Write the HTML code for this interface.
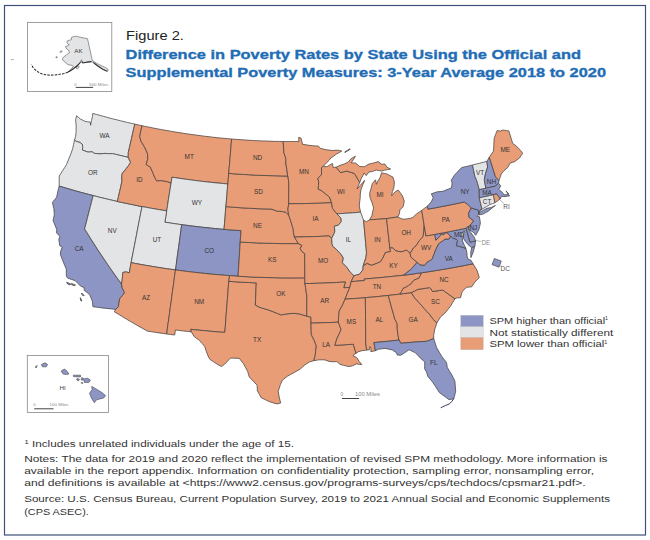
<!DOCTYPE html><html><head><meta charset="utf-8"><style>
html,body{margin:0;padding:0;background:#fff;}
svg{display:block}
</style></head><body>
<svg width="650" height="540" viewBox="0 0 650 540">
<rect x="0" y="0" width="650" height="540" fill="#fff"/>
<path d="M11,59.6 H13.8" stroke="#aaa" stroke-width="1"/>
<rect x="4.5" y="5.5" width="641" height="529.5" fill="none" stroke="#3d5179" stroke-width="1.2"/>
<g stroke="#464240" stroke-width="0.75" stroke-linejoin="round"><path d="M74.5,140.1 75.6,136.4 76.1,132.4 76.1,129.2 76.2,126.0 75.6,119.9 76.6,115.8 78.5,117.4 80.5,119.1 82.8,120.2 85.0,121.4 87.7,121.8 90.3,122.2 90.6,125.3 91.5,120.5 92.5,116.5 92.8,113.4 96.3,114.4 99.8,115.3 103.3,116.3 106.7,117.2 110.2,118.2 113.7,119.1 117.2,119.9 120.7,120.8 124.2,121.7 127.7,122.5 131.2,123.3 134.8,124.1 133.7,128.8 132.6,133.5 131.6,138.2 130.5,143.0 129.4,147.7 128.3,152.4 128.2,157.3 125.0,156.6 121.9,155.8 118.7,155.1 115.5,154.3 112.4,153.6 109.7,153.7 107.3,153.6 104.9,153.4 102.4,153.7 99.8,153.9 97.0,153.6 94.2,153.3 92.2,151.8 88.0,152.1 85.0,151.0 82.3,150.0 82.7,147.4 82.3,144.3 80.0,142.5 76.2,141.3 74.5,140.1Z" fill="#e3e4e6"/><path d="M59.2,186.1 59.2,180.1 59.3,176.0 61.0,173.2 62.7,170.5 64.7,167.5 66.5,164.5 68.7,159.2 70.8,153.9 72.7,148.6 73.6,144.3 74.5,140.1 76.2,141.3 80.0,142.5 82.3,144.3 82.7,147.4 82.3,150.0 85.0,151.0 88.0,152.1 92.2,151.8 94.2,153.3 97.0,153.6 99.8,153.9 102.4,153.7 104.9,153.4 107.3,153.6 109.7,153.7 112.4,153.6 115.5,154.3 118.7,155.1 121.9,155.8 125.0,156.6 128.2,157.3 130.6,162.5 128.5,165.5 126.3,168.5 122.3,173.4 121.8,175.6 121.9,181.4 120.8,186.4 119.7,191.4 118.5,196.4 117.4,201.5 113.4,200.5 109.3,199.6 105.3,198.6 101.2,197.7 97.2,196.6 93.2,195.6 89.4,194.6 85.6,193.6 81.8,192.6 78.0,191.6 74.2,190.5 70.5,189.4 66.7,188.3 62.9,187.2 59.2,186.1Z" fill="#e3e4e6"/><path d="M115.7,309.4 111.1,308.9 106.6,308.4 102.0,307.9 97.5,307.3 92.9,306.7 92.4,301.2 89.9,295.3 88.0,293.1 84.3,290.5 84.0,287.5 80.5,286.1 77.8,283.3 75.1,280.6 71.4,279.4 67.6,278.1 66.3,276.0 66.3,272.4 66.2,268.9 63.6,262.8 61.9,258.5 60.3,254.2 60.8,250.8 62.3,247.1 59.8,245.8 58.8,239.6 59.8,236.3 56.6,233.0 56.7,229.4 54.9,225.0 53.1,220.6 53.7,217.5 54.3,214.4 53.8,208.3 52.4,202.6 54.5,199.9 56.6,197.2 57.5,193.0 58.4,188.8 59.2,186.1 62.9,187.2 66.7,188.3 70.5,189.4 74.2,190.5 78.0,191.6 81.8,192.6 85.6,193.6 89.4,194.6 93.2,195.6 91.8,201.1 90.3,206.7 88.9,212.2 87.5,217.7 86.1,223.3 84.6,228.8 87.8,233.9 90.9,239.0 94.2,244.0 97.4,249.1 100.7,254.1 104.1,259.1 107.5,264.2 110.9,269.1 114.4,274.1 118.0,279.1 121.6,284.1 122.1,287.6 124.6,292.8 122.2,295.8 119.7,298.8 119.0,302.7 118.4,306.7 115.7,309.4Z" fill="#8c95c4"/><path d="M117.4,201.5 113.4,200.5 109.3,199.6 105.3,198.6 101.2,197.7 97.2,196.6 93.2,195.6 91.8,201.1 90.3,206.7 88.9,212.2 87.5,217.7 86.1,223.3 84.6,228.8 87.8,233.9 90.9,239.0 94.2,244.0 97.4,249.1 100.7,254.1 104.1,259.1 107.5,264.2 110.9,269.1 114.4,274.1 118.0,279.1 121.6,284.1 122.3,278.4 122.6,275.4 122.9,272.4 126.1,271.9 129.3,272.8 130.2,267.7 131.1,262.6 132.2,257.0 133.3,251.4 134.4,245.8 135.5,240.2 136.6,234.6 137.6,229.0 138.7,223.4 139.8,217.8 140.9,212.2 142.0,206.6 137.9,205.8 133.8,204.9 129.7,204.1 125.6,203.2 121.5,202.4 117.4,201.5Z" fill="#e3e4e6"/><path d="M134.8,124.1 138.4,124.9 142.0,125.7 140.8,131.2 139.7,136.7 141.2,141.6 143.7,145.6 146.0,150.1 147.6,153.8 147.8,159.1 146.1,164.5 148.2,165.8 150.3,167.0 153.1,173.3 154.5,177.1 156.7,180.9 159.0,180.7 161.3,180.6 164.1,181.0 166.8,181.5 169.0,182.3 171.1,183.0 170.2,188.6 169.3,194.1 168.4,199.7 167.6,205.3 166.7,210.9 162.5,210.2 158.4,209.5 154.3,208.8 150.2,208.1 146.1,207.3 142.0,206.6 137.9,205.8 133.8,204.9 129.7,204.1 125.6,203.2 121.5,202.4 117.4,201.5 118.5,196.4 119.7,191.4 120.8,186.4 121.9,181.4 121.8,175.6 122.3,173.4 126.3,168.5 128.5,165.5 130.6,162.5 128.2,157.3 128.3,152.4 129.4,147.7 130.5,143.0 131.6,138.2 132.6,133.5 133.7,128.8 134.8,124.1Z" fill="#e99d76"/><path d="M142.0,125.7 145.7,126.5 149.4,127.2 153.1,128.0 156.8,128.7 160.5,129.4 164.2,130.1 168.0,130.7 171.7,131.4 175.4,132.0 179.1,132.6 182.9,133.2 186.6,133.8 190.3,134.3 194.1,134.8 197.8,135.3 201.6,135.8 205.3,136.3 209.1,136.7 212.8,137.2 216.6,137.6 220.3,138.0 224.1,138.3 227.9,138.7 231.6,139.0 231.2,143.9 230.8,148.8 230.4,153.7 230.0,158.6 229.6,163.5 229.1,168.4 228.7,173.3 228.3,178.6 227.8,184.0 223.8,183.6 219.8,183.2 215.8,182.9 211.8,182.4 207.8,182.0 203.9,181.6 199.9,181.1 195.9,180.6 191.9,180.1 187.9,179.5 183.9,179.0 180.0,178.4 176.0,177.8 172.0,177.2 171.6,180.1 171.1,183.0 169.0,182.3 166.8,181.5 164.1,181.0 161.3,180.6 159.0,180.7 156.7,180.9 154.5,177.1 153.1,173.3 150.3,167.0 148.2,165.8 146.1,164.5 147.8,159.1 147.6,153.8 146.0,150.1 143.7,145.6 141.2,141.6 139.7,136.7 140.8,131.2 142.0,125.7Z" fill="#e99d76"/><path d="M171.1,183.0 171.6,180.1 172.0,177.2 176.0,177.8 180.0,178.4 183.9,179.0 187.9,179.5 191.9,180.1 195.9,180.6 199.9,181.1 203.9,181.6 207.8,182.0 211.8,182.4 215.8,182.9 219.8,183.2 223.8,183.6 227.8,184.0 227.3,189.6 226.9,195.3 226.4,200.9 225.9,206.6 225.4,212.3 225.0,218.0 224.5,223.7 224.0,229.4 219.8,229.0 215.5,228.6 211.3,228.2 207.1,227.7 202.8,227.3 198.6,226.8 194.4,226.3 190.1,225.8 185.9,225.2 181.7,224.7 177.5,224.1 173.3,223.5 169.1,222.8 164.9,222.2 165.8,216.5 166.7,210.9 167.6,205.3 168.4,199.7 169.3,194.1 170.2,188.6 171.1,183.0Z" fill="#e3e4e6"/><path d="M166.7,210.9 165.8,216.5 164.9,222.2 169.1,222.8 173.3,223.5 177.5,224.1 181.7,224.7 180.9,230.3 180.2,236.0 179.4,241.6 178.6,247.3 177.8,253.0 177.0,258.6 176.3,264.3 175.5,269.9 171.0,269.3 166.6,268.7 162.1,268.0 157.7,267.3 153.3,266.6 148.8,265.8 144.4,265.1 140.0,264.3 135.5,263.5 131.1,262.6 132.2,257.0 133.3,251.4 134.4,245.8 135.5,240.2 136.6,234.6 137.6,229.0 138.7,223.4 139.8,217.8 140.9,212.2 142.0,206.6 146.1,207.3 150.2,208.1 154.3,208.8 158.4,209.5 162.5,210.2 166.7,210.9Z" fill="#e3e4e6"/><path d="M181.7,224.7 185.9,225.2 190.1,225.8 194.4,226.3 198.6,226.8 202.8,227.3 207.1,227.7 211.3,228.2 215.5,228.6 219.8,229.0 224.0,229.4 228.2,229.7 232.5,230.0 236.7,230.3 241.0,230.6 240.6,236.3 240.2,242.0 239.9,247.7 239.5,253.4 239.2,259.1 238.8,264.8 238.4,270.5 238.1,276.2 233.8,275.9 229.6,275.6 225.4,275.3 221.2,275.0 217.1,274.6 212.9,274.3 208.7,273.9 204.6,273.4 200.4,273.0 196.2,272.5 192.1,272.1 187.9,271.6 183.8,271.0 179.6,270.5 175.5,269.9 176.3,264.3 177.0,258.6 177.8,253.0 178.6,247.3 179.4,241.6 180.2,236.0 180.9,230.3 181.7,224.7Z" fill="#8c95c4"/><path d="M131.1,262.6 135.5,263.5 140.0,264.3 144.4,265.1 148.8,265.8 153.3,266.6 157.7,267.3 162.1,268.0 166.6,268.7 171.0,269.3 175.5,269.9 174.7,275.3 174.0,280.6 173.3,286.0 172.5,291.3 171.8,296.7 171.1,302.0 170.3,307.3 169.6,312.7 168.9,318.0 168.1,323.3 167.4,328.6 166.7,334.0 162.8,333.4 158.9,332.9 155.1,332.3 151.2,331.7 147.3,331.1 143.2,328.7 139.0,326.4 134.8,324.0 130.7,321.6 126.6,319.2 122.5,316.7 118.4,314.2 114.3,311.8 115.7,309.4 118.4,306.7 119.0,302.7 119.7,298.8 122.2,295.8 124.6,292.8 122.1,287.6 121.6,284.1 122.3,278.4 122.6,275.4 122.9,272.4 126.1,271.9 129.3,272.8 130.2,267.7 131.1,262.6Z" fill="#e99d76"/><path d="M175.5,269.9 179.6,270.5 183.8,271.0 187.9,271.6 192.1,272.1 196.2,272.5 200.4,273.0 204.6,273.4 208.7,273.9 212.9,274.3 217.1,274.6 221.2,275.0 225.4,275.3 229.6,275.6 228.8,281.3 228.3,287.0 227.9,292.7 227.5,298.4 227.0,304.1 226.6,309.8 226.1,315.4 225.7,321.1 225.3,326.8 224.8,332.4 220.6,332.1 216.3,331.8 212.1,331.4 207.8,331.0 203.6,330.6 199.3,330.2 195.1,329.8 190.8,329.3 191.4,331.9 187.4,331.4 183.4,331.0 179.4,330.5 175.4,330.0 174.7,335.0 170.7,334.5 166.7,334.0 167.4,328.6 168.1,323.3 168.9,318.0 169.6,312.7 170.3,307.3 171.1,302.0 171.8,296.7 172.5,291.3 173.3,286.0 174.0,280.6 174.7,275.3 175.5,269.9Z" fill="#e99d76"/><path d="M191.4,331.9 190.8,329.3 195.1,329.8 199.3,330.2 203.6,330.6 207.8,331.0 212.1,331.4 216.3,331.8 220.6,332.1 224.8,332.4 225.3,326.8 225.7,321.1 226.1,315.4 226.6,309.8 227.0,304.1 227.5,298.4 227.9,292.7 228.3,287.0 228.8,281.3 232.7,281.6 236.6,281.9 240.5,282.1 244.5,282.3 248.4,282.5 252.3,282.7 256.3,282.9 256.0,288.4 255.8,294.0 255.6,299.5 255.3,305.0 259.0,307.0 262.7,308.3 265.9,309.2 269.1,310.2 273.8,312.0 277.5,313.5 281.2,314.9 284.0,314.4 286.8,313.9 290.1,313.6 293.4,313.3 296.2,313.6 299.0,313.8 302.9,315.0 306.7,316.1 310.9,317.1 311.0,320.1 311.0,323.1 311.1,327.0 311.2,330.9 311.3,334.7 314.2,340.3 316.3,346.0 315.7,351.1 315.1,356.2 313.8,360.7 309.3,362.0 304.9,364.9 300.4,368.9 297.0,370.9 293.5,372.9 290.5,374.5 287.5,376.2 282.4,380.1 280.4,384.6 279.3,388.0 278.2,391.3 279.2,397.0 279.9,400.0 280.7,403.0 277.0,403.9 273.4,402.9 269.9,401.8 265.5,399.8 261.2,397.7 259.3,394.2 257.4,390.8 257.1,385.2 253.2,381.1 249.3,377.0 247.6,371.3 245.5,367.5 243.5,363.7 239.3,358.4 234.9,358.2 230.4,358.1 227.5,361.2 224.6,364.2 221.4,366.6 217.1,364.1 213.3,361.6 209.6,359.1 207.1,353.7 205.9,350.2 204.8,346.7 202.2,343.6 199.5,340.5 196.8,338.5 194.1,336.5 191.4,331.9Z" fill="#e99d76"/><path d="M229.6,275.6 233.8,275.9 238.1,276.2 242.5,276.5 247.0,276.7 251.4,277.0 255.9,277.2 260.3,277.3 264.8,277.5 269.2,277.6 273.7,277.7 278.1,277.8 282.6,277.9 287.0,277.9 291.5,277.9 295.9,277.9 300.4,277.9 304.8,277.8 304.9,283.5 305.6,287.7 306.2,291.9 306.9,296.1 306.8,301.1 306.8,306.1 306.8,311.1 306.7,316.1 302.9,315.0 299.0,313.8 296.2,313.6 293.4,313.3 290.1,313.6 286.8,313.9 284.0,314.4 281.2,314.9 277.5,313.5 273.8,312.0 269.1,310.2 265.9,309.2 262.7,308.3 259.0,307.0 255.3,305.0 255.6,299.5 255.8,294.0 256.0,288.4 256.3,282.9 252.3,282.7 248.4,282.5 244.5,282.3 240.5,282.1 236.6,281.9 232.7,281.6 228.8,281.3 229.6,275.6Z" fill="#e99d76"/><path d="M240.2,242.0 244.4,242.3 248.5,242.5 252.7,242.7 256.8,242.9 261.0,243.1 265.1,243.2 269.3,243.3 273.4,243.4 277.6,243.5 281.8,243.6 285.9,243.6 290.1,243.6 294.2,243.6 298.4,243.6 301.9,245.3 300.2,248.7 302.0,251.6 304.7,253.6 304.7,258.4 304.7,263.3 304.8,268.1 304.8,273.0 304.8,277.8 300.4,277.9 295.9,277.9 291.5,277.9 287.0,277.9 282.6,277.9 278.1,277.8 273.7,277.7 269.2,277.6 264.8,277.5 260.3,277.3 255.9,277.2 251.4,277.0 247.0,276.7 242.5,276.5 238.1,276.2 238.4,270.5 238.8,264.8 239.2,259.1 239.5,253.4 239.9,247.7 240.2,242.0Z" fill="#e99d76"/><path d="M224.0,229.4 224.5,223.7 225.0,218.0 225.4,212.3 225.9,206.6 229.7,206.9 233.5,207.2 237.4,207.5 241.2,207.8 245.0,208.0 248.8,208.2 252.6,208.4 256.4,208.6 260.3,208.8 264.1,208.9 267.9,209.0 271.7,209.1 274.2,210.1 276.7,211.0 279.6,211.3 282.5,211.6 285.8,212.2 288.7,215.2 290.7,220.8 292.4,226.5 293.3,229.4 293.4,232.2 294.4,237.0 296.4,240.3 298.4,243.6 294.2,243.6 290.1,243.6 285.9,243.6 281.8,243.6 277.6,243.5 273.4,243.4 269.3,243.3 265.1,243.2 261.0,243.1 256.8,242.9 252.7,242.7 248.5,242.5 244.4,242.3 240.2,242.0 240.6,236.3 241.0,230.6 236.7,230.3 232.5,230.0 228.2,229.7 224.0,229.4Z" fill="#e99d76"/><path d="M227.8,184.0 228.3,178.6 228.7,173.3 232.7,173.7 236.6,174.0 240.5,174.2 244.5,174.5 248.4,174.7 252.4,175.0 256.3,175.2 260.3,175.3 264.2,175.5 268.2,175.6 272.1,175.7 276.1,175.8 280.0,175.9 284.0,176.0 287.9,176.0 288.4,179.6 288.8,183.2 288.8,188.4 288.7,193.5 288.7,198.6 288.7,203.7 287.9,209.4 288.3,212.3 288.7,215.2 285.8,212.2 282.5,211.6 279.6,211.3 276.7,211.0 274.2,210.1 271.7,209.1 267.9,209.0 264.1,208.9 260.3,208.8 256.4,208.6 252.6,208.4 248.8,208.2 245.0,208.0 241.2,207.8 237.4,207.5 233.5,207.2 229.7,206.9 225.9,206.6 226.4,200.9 226.9,195.3 227.3,189.6 227.8,184.0Z" fill="#e99d76"/><path d="M231.6,139.0 235.3,139.3 239.0,139.6 242.6,139.8 246.3,140.1 250.0,140.3 253.6,140.5 257.3,140.7 261.0,140.9 264.7,141.0 268.4,141.1 272.0,141.3 275.7,141.4 279.4,141.4 283.1,141.5 283.6,147.1 283.9,152.7 285.8,158.4 285.9,164.0 286.9,169.7 287.6,175.3 287.9,176.0 284.0,176.0 280.0,175.9 276.1,175.8 272.1,175.7 268.2,175.6 264.2,175.5 260.3,175.3 256.3,175.2 252.4,175.0 248.4,174.7 244.5,174.5 240.5,174.2 236.6,174.0 232.7,173.7 228.7,173.3 229.1,168.4 229.6,163.5 230.0,158.6 230.4,153.7 230.8,148.8 231.2,143.9 231.6,139.0Z" fill="#e99d76"/><path d="M283.1,141.5 286.2,141.5 289.4,141.5 292.5,141.5 295.6,141.5 298.8,141.5 298.7,137.3 301.0,138.1 301.8,141.2 302.6,144.3 306.0,144.8 309.1,145.3 312.9,145.7 315.6,145.9 318.2,146.1 320.6,148.3 323.3,149.0 326.0,149.7 329.1,150.1 332.2,150.5 335.2,150.3 338.3,150.2 341.8,151.1 339.0,152.6 336.3,154.2 333.7,156.1 331.0,157.9 327.4,162.0 325.3,164.1 323.3,166.2 321.5,168.0 321.5,171.3 321.6,174.7 317.8,178.3 318.7,181.7 318.5,185.3 318.2,189.0 321.5,190.6 325.6,193.9 329.5,197.1 331.6,202.7 327.7,202.9 323.8,203.1 319.9,203.2 316.0,203.3 312.1,203.4 308.2,203.5 304.3,203.6 300.4,203.7 296.5,203.7 292.6,203.7 288.7,203.7 288.7,198.6 288.7,193.5 288.8,188.4 288.8,183.2 288.4,179.6 287.9,176.0 287.6,175.3 286.9,169.7 285.9,164.0 285.8,158.4 283.9,152.7 283.6,147.1 283.1,141.5Z" fill="#e99d76"/><path d="M288.7,203.7 292.6,203.7 296.5,203.7 300.4,203.7 304.3,203.6 308.2,203.5 312.1,203.4 316.0,203.3 319.9,203.2 323.8,203.1 327.7,202.9 331.6,202.7 332.5,208.4 334.7,211.1 337.0,213.8 341.0,218.2 341.3,221.6 338.4,225.2 334.3,226.3 334.9,231.1 334.2,233.4 331.7,238.3 328.9,235.9 325.1,236.1 321.3,236.3 317.4,236.5 313.6,236.6 309.8,236.7 305.9,236.8 302.1,236.9 298.2,237.0 294.4,237.0 293.4,232.2 293.3,229.4 292.4,226.5 290.7,220.8 288.7,215.2 288.3,212.3 287.9,209.4 288.7,203.7Z" fill="#e99d76"/><path d="M294.4,237.0 298.2,237.0 302.1,236.9 305.9,236.8 309.8,236.7 313.6,236.6 317.4,236.5 321.3,236.3 325.1,236.1 328.9,235.9 331.7,238.3 332.0,243.5 332.7,246.1 336.3,249.3 341.0,254.2 343.4,258.1 342.4,262.7 346.6,267.0 350.6,272.5 354.0,275.7 351.2,281.6 349.8,287.4 346.8,287.6 343.7,287.8 345.4,282.0 340.9,282.2 336.4,282.5 331.9,282.7 327.4,282.9 322.9,283.1 318.4,283.2 313.9,283.4 309.4,283.5 304.9,283.5 304.8,277.8 304.8,273.0 304.8,268.1 304.7,263.3 304.7,258.4 304.7,253.6 302.0,251.6 300.2,248.7 301.9,245.3 298.4,243.6 296.4,240.3 294.4,237.0Z" fill="#e99d76"/><path d="M304.9,283.5 309.4,283.5 313.9,283.4 318.4,283.2 322.9,283.1 327.4,282.9 331.9,282.7 336.4,282.5 340.9,282.2 345.4,282.0 343.7,287.8 346.8,287.6 349.8,287.4 347.4,293.3 345.0,299.2 342.6,305.0 339.2,310.9 338.9,314.3 338.6,317.8 338.3,322.1 333.7,322.4 329.2,322.6 324.6,322.7 320.1,322.9 315.6,323.0 311.0,323.1 311.0,320.1 310.9,317.1 306.7,316.1 306.8,311.1 306.8,306.1 306.8,301.1 306.9,296.1 306.2,291.9 305.6,287.7 304.9,283.5Z" fill="#e99d76"/><path d="M311.0,323.1 315.6,323.0 320.1,322.9 324.6,322.7 329.2,322.6 333.7,322.4 338.3,322.1 339.7,325.9 341.1,329.6 339.0,334.3 336.8,338.9 335.9,342.1 334.9,345.3 339.5,345.1 344.1,344.8 348.7,344.5 353.3,344.2 355.0,349.8 356.0,353.4 354.3,354.4 352.9,355.6 355.4,356.8 357.3,358.2 359.2,361.4 361.9,364.6 359.2,364.3 356.4,363.9 352.6,365.8 349.1,366.6 345.1,365.7 340.0,364.3 336.9,361.6 333.0,361.8 329.0,361.4 325.0,359.9 322.1,359.8 319.1,359.8 316.4,360.3 313.8,360.7 315.1,356.2 315.7,351.1 316.3,346.0 314.2,340.3 311.3,334.7 311.2,330.9 311.1,327.0 311.0,323.1Z" fill="#e99d76"/><path d="M323.3,166.2 326.8,166.8 330.2,164.7 332.5,163.5 333.1,167.4 336.1,167.2 338.8,170.5 340.5,172.6 343.6,171.8 346.8,171.1 350.4,172.2 354.1,173.3 355.4,174.9 357.8,179.3 359.7,182.5 358.3,185.8 357.0,189.0 360.3,185.3 362.5,182.8 364.7,180.3 362.7,185.1 361.1,189.2 360.3,193.9 360.2,197.9 359.7,201.9 359.3,205.9 359.9,209.0 360.6,212.1 356.7,212.5 352.8,212.8 348.8,213.1 344.9,213.3 341.0,213.6 337.0,213.8 334.7,211.1 332.5,208.4 331.6,202.7 329.5,197.1 325.6,193.9 321.5,190.6 318.2,189.0 318.5,185.3 318.7,181.7 317.8,178.3 321.6,174.7 321.5,171.3 321.5,168.0 323.3,166.2Z" fill="#e99d76"/><path d="M337.0,213.8 341.0,213.6 344.9,213.3 348.8,213.1 352.8,212.8 356.7,212.5 360.6,212.1 362.1,216.2 363.6,220.3 364.1,225.8 364.6,231.3 365.1,236.8 365.6,242.3 366.1,247.7 366.5,252.9 365.9,257.5 364.6,261.6 363.2,265.8 362.9,269.8 359.3,274.4 356.6,275.0 354.0,275.7 350.6,272.5 346.6,267.0 342.4,262.7 343.4,258.1 341.0,254.2 336.3,249.3 332.7,246.1 332.0,243.5 331.7,238.3 334.2,233.4 334.9,231.1 334.3,226.3 338.4,225.2 341.3,221.6 341.0,218.2 337.0,213.8Z" fill="#e3e4e6"/><path d="M369.6,219.8 371.9,215.6 372.7,211.8 373.6,208.0 372.2,203.0 370.0,197.5 369.6,193.5 371.1,188.3 372.3,183.6 375.5,179.8 376.4,184.3 377.7,181.3 380.1,177.6 381.5,172.8 384.2,173.4 386.8,173.9 389.9,175.5 392.9,177.1 394.4,182.0 393.9,187.8 392.4,191.5 391.7,195.9 395.3,191.7 398.3,190.1 400.4,193.0 402.4,195.8 404.3,201.3 403.1,206.7 399.8,210.0 399.5,213.5 397.8,217.0 394.1,217.5 390.3,218.1 386.6,218.6 383.2,218.9 379.8,219.1 376.4,219.4 373.0,219.6 369.6,219.8Z" fill="#e99d76"/><path d="M336.1,167.2 338.1,166.3 340.1,165.3 342.4,164.6 344.7,163.8 348.4,161.9 350.9,158.8 353.1,157.5 355.4,156.2 353.7,159.2 351.2,162.8 353.4,162.9 355.6,163.0 359.8,166.6 362.2,166.6 364.6,166.7 366.8,165.3 369.0,164.0 371.7,163.4 374.4,162.8 378.2,161.6 381.7,164.3 384.8,163.9 386.8,167.0 390.6,169.1 387.7,169.6 384.8,170.1 381.7,171.1 378.8,170.6 376.0,170.0 372.2,171.6 369.0,171.9 366.2,175.6 364.0,173.0 363.0,175.4 361.3,178.4 359.7,182.5 357.8,179.3 355.4,174.9 354.1,173.3 350.4,172.2 346.8,171.1 343.6,171.8 340.5,172.6 338.8,170.5 336.1,167.2Z" fill="#e99d76"/><path d="M363.6,220.3 366.5,221.7 369.6,219.8 373.0,219.6 376.4,219.4 379.8,219.1 383.2,218.9 386.6,218.6 387.1,223.5 387.7,228.5 388.2,233.4 388.8,238.3 389.3,243.2 389.9,248.1 390.5,251.5 387.9,252.1 385.3,252.7 382.8,258.1 380.5,261.8 376.7,263.4 374.1,264.4 371.5,265.4 367.1,263.5 363.2,265.8 364.6,261.6 365.9,257.5 366.5,252.9 366.1,247.7 365.6,242.3 365.1,236.8 364.6,231.3 364.1,225.8 363.6,220.3Z" fill="#e99d76"/><path d="M386.6,218.6 390.3,218.1 394.1,217.5 397.8,217.0 401.9,218.9 404.5,219.2 407.4,218.7 410.4,218.3 412.8,217.4 416.5,213.9 419.1,212.2 421.7,210.4 422.6,215.4 423.4,220.5 424.2,225.5 424.0,228.7 423.7,231.8 423.1,236.6 419.4,240.6 416.2,245.7 413.5,247.9 410.2,253.3 406.7,250.2 403.9,251.1 401.1,251.9 398.4,251.4 395.7,250.9 392.7,247.8 389.9,248.1 389.3,243.2 388.8,238.3 388.2,233.4 387.7,228.5 387.1,223.5 386.6,218.6Z" fill="#e99d76"/><path d="M389.9,248.1 392.7,247.8 395.7,250.9 398.4,251.4 401.1,251.9 403.9,251.1 406.7,250.2 410.2,253.3 410.7,256.9 413.9,259.6 417.2,262.3 414.0,266.0 410.7,269.6 407.1,272.4 403.5,275.2 399.3,275.7 395.1,276.1 391.0,276.6 386.8,277.0 382.6,277.4 378.9,277.7 375.2,278.1 371.6,278.4 367.9,278.7 364.2,279.0 364.3,280.6 359.9,280.9 355.6,281.3 351.2,281.6 354.0,275.7 356.6,275.0 359.3,274.4 362.9,269.8 363.2,265.8 367.1,263.5 371.5,265.4 374.1,264.4 376.7,263.4 380.5,261.8 382.8,258.1 385.3,252.7 387.9,252.1 390.5,251.5 389.9,248.1Z" fill="#e99d76"/><path d="M351.2,281.6 355.6,281.3 359.9,280.9 364.3,280.6 364.2,279.0 367.9,278.7 371.6,278.4 375.2,278.1 378.9,277.7 382.6,277.4 386.8,277.0 391.0,276.6 395.1,276.1 399.3,275.7 403.5,275.2 408.0,274.7 412.4,274.1 416.9,273.4 421.4,272.8 420.3,275.7 418.8,278.3 416.4,279.2 414.0,280.1 411.2,283.7 408.9,285.3 406.7,286.8 403.2,288.4 402.2,290.4 400.0,294.1 396.1,294.6 392.2,295.0 388.3,295.5 384.3,295.9 380.3,296.3 376.3,296.7 372.3,297.1 368.4,297.4 364.4,297.8 360.5,298.1 356.6,298.4 352.8,298.7 348.9,298.9 345.0,299.2 347.4,293.3 349.8,287.4 351.2,281.6Z" fill="#e99d76"/><path d="M345.0,299.2 348.9,298.9 352.8,298.7 356.6,298.4 360.5,298.1 364.4,297.8 365.4,298.8 365.4,304.4 365.5,310.0 365.5,315.5 365.6,321.1 365.6,326.7 365.7,332.2 365.7,337.8 365.7,343.3 366.2,346.7 366.7,350.1 361.9,350.7 358.0,351.9 356.0,353.4 355.0,349.8 353.3,344.2 348.7,344.5 344.1,344.8 339.5,345.1 334.9,345.3 335.9,342.1 336.8,338.9 339.0,334.3 341.1,329.6 339.7,325.9 338.3,322.1 338.6,317.8 338.9,314.3 339.2,310.9 342.6,305.0 345.0,299.2Z" fill="#e99d76"/><path d="M364.4,297.8 368.4,297.4 372.3,297.1 376.3,296.7 380.3,296.3 384.3,295.9 388.3,295.5 389.6,300.3 390.9,305.0 392.2,309.8 393.6,314.6 394.9,319.4 397.2,323.7 397.2,328.8 397.9,334.5 399.0,340.0 394.9,340.5 390.7,341.0 386.5,341.4 382.3,341.8 378.1,342.2 373.9,342.6 374.7,346.7 375.4,350.7 370.8,351.7 371.0,348.6 369.9,346.6 369.5,349.8 366.7,350.1 366.2,346.7 365.7,343.3 365.7,337.8 365.7,332.2 365.6,326.7 365.6,321.1 365.5,315.5 365.5,310.0 365.4,304.4 365.4,298.8 364.4,297.8Z" fill="#e99d76"/><path d="M388.3,295.5 392.2,295.0 396.1,294.6 400.0,294.1 403.7,293.6 407.4,293.1 411.2,292.6 414.7,297.9 417.5,301.0 420.3,304.0 424.1,308.4 426.7,311.3 429.4,314.1 431.5,317.0 433.7,319.8 436.8,323.0 435.8,326.2 434.7,329.4 433.7,335.3 433.7,338.5 431.1,339.6 428.6,340.7 426.7,341.3 421.8,341.6 416.9,341.8 412.9,342.2 408.9,342.6 404.8,342.9 400.8,343.3 399.0,340.0 397.9,334.5 397.2,328.8 397.2,323.7 394.9,319.4 393.6,314.6 392.2,309.8 390.9,305.0 389.6,300.3 388.3,295.5Z" fill="#e99d76"/><path d="M399.0,340.0 400.8,343.3 404.8,342.9 408.9,342.6 412.9,342.2 416.9,341.8 421.8,341.6 426.7,341.3 428.6,340.7 431.1,339.6 433.7,338.5 435.1,343.0 436.6,347.5 439.3,352.2 442.1,356.9 444.3,359.7 446.5,362.5 447.3,367.5 449.8,371.6 452.3,375.8 454.9,381.0 455.3,386.1 455.7,391.1 454.6,395.8 453.5,398.9 448.9,399.6 446.5,397.7 443.0,395.2 439.4,392.6 437.4,389.5 435.4,386.4 432.7,382.3 430.2,379.2 427.7,376.2 426.7,372.4 424.6,368.7 424.7,365.3 424.7,361.8 420.7,358.4 418.0,355.6 415.4,352.8 412.2,351.3 409.1,349.7 406.3,351.7 403.6,353.5 400.8,355.2 397.3,355.1 396.6,352.9 392.3,349.9 388.8,349.2 385.2,348.4 381.8,348.8 378.4,349.3 375.4,350.7 374.7,346.7 373.9,342.6 378.1,342.2 382.3,341.8 386.5,341.4 390.7,341.0 394.9,340.5 399.0,340.0Z" fill="#8c95c4"/><path d="M436.8,323.0 433.7,319.8 431.5,317.0 429.4,314.1 426.7,311.3 424.1,308.4 420.3,304.0 417.5,301.0 414.7,297.9 411.2,292.6 414.7,291.0 418.1,289.3 422.0,288.8 425.8,288.2 429.6,287.6 430.8,288.6 432.5,291.5 435.9,291.0 439.4,290.5 442.8,290.0 446.9,293.0 450.9,295.9 455.0,298.8 452.6,302.7 450.2,306.6 447.5,310.0 444.7,313.4 440.5,317.0 436.8,323.0Z" fill="#e99d76"/><path d="M400.0,294.1 402.2,290.4 403.2,288.4 406.7,286.8 408.9,285.3 411.2,283.7 414.0,280.1 416.4,279.2 418.8,278.3 420.3,275.7 421.4,272.8 425.7,272.2 430.1,271.5 434.4,270.8 438.7,270.1 443.0,269.4 447.3,268.7 451.6,267.9 455.9,267.1 460.3,266.3 464.5,265.5 468.8,264.6 473.1,263.8 475.1,267.1 477.1,270.5 478.2,274.0 479.3,277.6 477.1,279.8 474.9,282.1 471.7,286.8 469.1,287.1 466.5,287.3 464.4,289.5 462.2,291.6 460.5,297.8 457.2,297.8 455.0,298.8 450.9,295.9 446.9,293.0 442.8,290.0 439.4,290.5 435.9,291.0 432.5,291.5 430.8,288.6 429.6,287.6 425.8,288.2 422.0,288.8 418.1,289.3 414.7,291.0 411.2,292.6 407.4,293.1 403.7,293.6 400.0,294.1Z" fill="#e99d76"/><path d="M403.5,275.2 407.1,272.4 410.7,269.6 414.0,266.0 417.2,262.3 420.0,264.8 424.6,265.3 427.2,261.9 429.5,260.7 431.8,259.5 433.7,254.5 436.2,248.3 438.5,243.8 441.9,241.4 445.2,239.1 448.8,239.0 450.6,236.1 453.0,238.2 456.4,239.2 457.6,240.7 456.3,245.7 459.2,246.3 462.5,247.3 465.9,248.4 466.9,252.8 467.1,256.3 468.3,259.5 470.6,259.9 473.1,263.8 468.8,264.6 464.5,265.5 460.3,266.3 455.9,267.1 451.6,267.9 447.3,268.7 443.0,269.4 438.7,270.1 434.4,270.8 430.1,271.5 425.7,272.2 421.4,272.8 416.9,273.4 412.4,274.1 408.0,274.7 403.5,275.2Z" fill="#8c95c4"/><path d="M470.9,257.6 470.8,252.0 471.7,247.7 474.9,246.0 474.4,247.7 473.0,252.7 470.9,257.6Z" fill="#8c95c4"/><path d="M424.2,225.5 424.0,228.7 423.7,231.8 423.1,236.6 419.4,240.6 416.2,245.7 413.5,247.9 410.2,253.3 410.7,256.9 413.9,259.6 417.2,262.3 420.0,264.8 424.6,265.3 427.2,261.9 429.5,260.7 431.8,259.5 433.7,254.5 436.2,248.3 438.5,243.8 441.9,241.4 445.2,239.1 448.8,239.0 450.6,236.1 447.7,233.4 445.9,232.5 443.5,234.7 441.1,234.0 439.5,236.7 435.8,240.2 435.3,237.3 434.8,234.4 431.9,234.9 428.9,235.4 425.9,235.9 425.1,230.7 424.2,225.5Z" fill="#e99d76"/><path d="M434.8,234.4 438.7,233.6 442.7,232.9 446.6,232.2 450.5,231.4 454.4,230.6 458.4,229.8 462.3,229.0 466.2,228.2 467.4,232.8 468.7,237.5 470.0,242.1 472.8,241.5 475.6,241.0 474.9,246.0 471.7,247.7 467.8,244.4 465.4,241.5 463.4,238.4 463.7,233.6 464.4,230.6 461.6,234.1 462.3,237.4 462.5,240.9 464.3,245.2 465.9,248.4 462.5,247.3 459.2,246.3 456.3,245.7 457.6,240.7 456.4,239.2 453.0,238.2 450.6,236.1 447.7,233.4 445.9,232.5 443.5,234.7 441.1,234.0 439.5,236.7 435.8,240.2 435.3,237.3 434.8,234.4Z" fill="#8c95c4"/><path d="M466.2,228.2 467.5,226.6 469.1,226.6 468.5,229.1 470.5,232.2 474.3,237.2 475.6,241.0 472.8,241.5 470.0,242.1 468.7,237.5 467.4,232.8 466.2,228.2Z" fill="#8c95c4"/><path d="M421.7,210.4 424.6,208.2 427.5,206.1 428.0,209.1 432.0,208.4 436.1,207.7 440.1,206.9 444.2,206.1 448.2,205.3 452.2,204.5 456.2,203.7 460.3,202.8 464.3,202.0 467.4,204.2 471.3,207.9 468.6,213.1 469.0,217.3 473.8,220.9 471.3,223.8 469.1,226.6 467.5,226.6 466.2,228.2 462.3,229.0 458.4,229.8 454.4,230.6 450.5,231.4 446.6,232.2 442.7,232.9 438.7,233.6 434.8,234.4 431.9,234.9 428.9,235.4 425.9,235.9 425.1,230.7 424.2,225.5 423.4,220.5 422.6,215.4 421.7,210.4Z" fill="#e99d76"/><path d="M471.3,207.9 475.0,209.1 478.8,210.3 478.6,213.9 477.2,216.6 479.4,216.7 479.9,219.8 480.4,222.9 479.7,226.3 478.9,229.7 475.7,235.3 473.7,232.6 468.5,229.1 469.1,226.6 471.3,223.8 473.8,220.9 469.0,217.3 468.6,213.1 471.3,207.9Z" fill="#8c95c4"/><path d="M427.5,206.1 429.4,203.8 431.4,201.6 433.2,197.8 431.3,193.8 434.2,192.8 437.2,191.8 440.1,191.6 442.9,191.3 445.8,190.1 448.6,189.0 451.5,187.8 452.1,183.0 451.2,180.3 452.9,177.6 454.6,174.9 456.9,172.5 459.3,170.0 461.6,167.6 465.2,166.7 468.9,165.9 472.5,165.0 473.7,170.6 474.8,176.1 476.7,180.4 477.6,183.6 478.6,186.9 479.2,189.7 479.3,193.8 479.3,197.9 480.6,203.2 481.8,208.4 480.8,209.9 479.2,212.0 478.6,213.9 478.8,210.3 475.0,209.1 471.3,207.9 467.4,204.2 464.3,202.0 460.3,202.8 456.2,203.7 452.2,204.5 448.2,205.3 444.2,206.1 440.1,206.9 436.1,207.7 432.0,208.4 428.0,209.1 427.5,206.1Z M479.0,215.0 483.2,214.0 485.9,212.5 488.6,210.9 492.0,208.1 495.4,205.4 493.3,206.5 491.2,207.5 487.0,208.3 484.7,209.5 482.3,210.7 479.3,212.6Z" fill="#8c95c4"/><path d="M472.5,165.0 476.1,164.1 479.7,163.2 483.3,162.3 486.9,161.3 487.6,167.0 485.5,173.4 484.3,179.6 485.1,184.0 485.8,188.3 482.5,189.0 479.2,189.7 478.6,186.9 477.6,183.6 476.7,180.4 474.8,176.1 473.7,170.6 472.5,165.0Z" fill="#e3e4e6"/><path d="M486.9,161.3 489.3,157.2 490.9,162.1 492.4,166.9 493.9,171.8 495.5,176.7 498.9,180.7 498.6,183.3 495.2,186.2 492.1,186.9 489.0,187.6 485.8,188.3 485.1,184.0 484.3,179.6 485.5,173.4 487.6,167.0 486.9,161.3Z" fill="#8c95c4"/><path d="M498.9,180.7 500.1,177.3 501.3,173.9 503.8,170.8 505.9,169.1 507.9,167.3 510.1,163.1 512.4,162.4 514.7,161.7 517.1,159.8 519.5,157.9 521.1,155.6 522.7,153.3 520.5,150.4 516.2,145.9 512.7,143.4 511.4,139.2 510.1,135.0 508.8,130.9 506.6,130.6 504.4,130.3 502.3,130.0 500.6,131.1 497.1,130.6 495.6,134.4 494.2,138.2 493.9,143.0 493.7,148.1 493.3,151.4 491.3,154.3 489.3,157.2 490.9,162.1 492.4,166.9 493.9,171.8 495.5,176.7 498.9,180.7Z" fill="#e99d76"/><path d="M485.8,188.3 489.0,187.6 492.1,186.9 495.2,186.2 498.6,183.3 500.7,185.9 498.7,189.4 502.5,192.5 504.1,195.0 506.3,194.4 508.6,193.8 506.0,190.9 509.6,195.9 507.3,196.2 505.0,196.6 501.4,196.3 500.2,199.0 498.4,196.5 496.6,193.9 493.2,194.8 489.7,195.6 486.3,196.4 482.8,197.1 479.3,197.9 479.3,193.8 479.2,189.7 482.5,189.0 485.8,188.3Z" fill="#8c95c4"/><path d="M500.2,199.0 497.5,200.9 494.8,202.8 494.0,198.8 493.2,194.8 496.6,193.9 498.4,196.5 500.2,199.0Z" fill="#e99d76"/><path d="M493.2,194.8 494.0,198.8 494.8,202.8 492.2,203.8 489.6,204.7 486.7,206.5 483.7,208.2 480.8,209.9 481.8,208.4 480.6,203.2 479.3,197.9 482.8,197.1 486.3,196.4 489.7,195.6 493.2,194.8Z" fill="#e3e4e6"/><path d="M66.6,282.2 70.9,284.0 69.7,284.9 67.5,283.9Z" fill="#8c95c4"/><path d="M71.5,283.4 75.5,285.0 74.3,285.7 71.7,284.8Z" fill="#8c95c4"/><path d="M81.7,293.0 84.2,295.5 83.0,295.7 81.4,294.1Z" fill="#8c95c4"/><path d="M80.4,297.7 81.9,301.0 81.0,301.0 80.3,298.9Z" fill="#8c95c4"/><path d="M344.6,152.0 347.2,150.4 349.7,148.8 350.2,149.3 347.6,150.9 345.0,152.5Z" fill="#e99d76"/></g><path d="M454.0,398.2 451.9,401.4 449.1,404.1 445.6,405.4 442.7,406.8 440.7,407.7" fill="none" stroke="#3a3a5a" stroke-width="1"/>
<g font-family="Liberation Sans, sans-serif" font-size="6.4" fill="#333" text-anchor="middle"><text x="104.6" y="137.54999999999998">WA</text><text x="92.9" y="175.45">OR</text><text x="139.4" y="181.54999999999998">ID</text><text x="189.2" y="158.54999999999998">MT</text><text x="196.9" y="204.65">WY</text><text x="112.3" y="233.25">NV</text><text x="156.9" y="242.15">UT</text><text x="209.2" y="253.25">CO</text><text x="79.1" y="251.45">CA</text><text x="257.5" y="159.85">ND</text><text x="258.5" y="193.75">SD</text><text x="257.5" y="227.85">NE</text><text x="272.3" y="262.35">KS</text><text x="304" y="174.04999999999998">MN</text><text x="315.4" y="221.45">IA</text><text x="340.9" y="193.75">WI</text><text x="380" y="197.15">MI</text><text x="348.3" y="242.35">IL</text><text x="323.1" y="263.25">MO</text><text x="377.5" y="242.35">IN</text><text x="406.2" y="234.65">OH</text><text x="393.5" y="267.85">KY</text><text x="426.2" y="250.35">WV</text><text x="448.7" y="260.65000000000003">VA</text><text x="444" y="282.35">NC</text><text x="376.9" y="288.55">TN</text><text x="324.6" y="303.25">AR</text><text x="435.4" y="303.85">SC</text><text x="351.4" y="323.85">MS</text><text x="379.4" y="321.75">AL</text><text x="413.2" y="322.35">GA</text><text x="326.2" y="346.95000000000005">LA</text><text x="433.8" y="364.85">FL</text><text x="146" y="300.35">AZ</text><text x="199.2" y="304.35">NM</text><text x="257.2" y="342.35">TX</text><text x="280.8" y="295.55">OK</text><text x="505.2" y="152.04999999999998">ME</text><text x="480.1" y="175.25">VT</text><text x="491.4" y="184.45">NH</text><text x="465.1" y="193.54999999999998">NY</text><text x="487.1" y="194.65">MA</text><text x="487.1" y="203.75">CT</text><text x="445.7" y="222.25">PA</text><text x="473.4" y="229.95">NJ</text><text x="458.9" y="236.65">MD</text></g>
<g font-family="Liberation Sans, sans-serif" font-size="6.4" fill="#555" text-anchor="middle"><text x="506.5" y="208.5">RI</text><text x="505.2" y="270.8">DC</text></g><text x="485.9" y="244.6" font-family="Liberation Sans, sans-serif" font-size="6.4" fill="#8a8a8a" text-anchor="middle">DE</text>
<g stroke="#777" stroke-width="0.5" fill="none">
<path d="M500,200 L504,203.5"/><path d="M476,240.5 L481,241.5"/><path d="M500.5,265 L501.5,266.5"/></g>
<rect x="493" y="259.6" width="7.4" height="6.5" fill="#8c95c4" stroke="#4a4038" stroke-width="0.6" transform="rotate(20 496.7 262.8)"/>

<rect x="27.4" y="22.4" width="84.4" height="69.1" fill="none" stroke="#888" stroke-width="0.8"/>
<path d="M71.6,37.3 73.5,36.6 75.8,36.2 80.0,37.2 84.0,38.0 87.5,38.7 92.3,60.6 95.0,62.2 97.6,63.8 101.0,65.5 104.8,67.2 107.5,68.8 108.3,70.2 107.4,71.2 105.5,70.6 103.2,69.4 100.5,67.8 98.2,66.2 95.5,64.2 93.4,62.6 91.5,61.6 89.0,61.9 86.4,62.2 84.0,62.7 82.4,62.6 81.8,61.2 81.6,59.8 80.8,60.5 80.5,62.2 79.5,63.5 77.5,65.5 75.0,67.5 72.0,69.7 69.5,71.2 68.0,72.0 69.8,70.0 72.0,68.0 73.5,66.5 72.0,65.4 70.0,65.0 68.0,64.6 65.5,62.5 62.4,59.8 63.0,57.8 64.3,56.3 66.0,55.5 67.5,53.9 69.5,52.5 68.8,50.4 66.4,48.7 65.4,46.6 67.5,45.8 69.2,44.9 67.5,43.5 66.8,42.3 67.5,40.7 69.5,40.2 71.3,39.7ZM59.7,51.9 L61.2,50.9 L62.3,51.3 L60.6,52.3Z M55.8,57.0 L57.0,56.6 L57.3,57.6 L56.2,57.9Z M76.6,66.6 L78.6,66.0 L79.2,67.3 L77.4,69.0 L76.3,68.4Z" fill="#e3e4e6" stroke="#555" stroke-width="0.6" stroke-linejoin="round"/>
<path d="M91.5,61.6 L89,61.9 L86.4,62.2 L84,62.7 L82.4,62.6 L81.8,61.2 M80.5,62.2 L79.5,63.5 L77.5,65.5 L75,67.5 L72,69.7 L69.5,71.2 L68,72.0 M93.4,62.6 L95.5,64.2 L98.2,66.2 L100.5,67.8 L103.2,69.4 L105.5,70.6 L107.4,71.2" fill="none" stroke="#333" stroke-width="1.1"/>
<path d="M68,72.2 L64,73.5 L60,74.2 L55,75 L50,75.2 L45,74.6 L40,73.2 L36,70.5 L33,67.5 L31.3,64.4" fill="none" stroke="#333" stroke-width="1.1" stroke-dasharray="2.5 1.2"/>
<text x="78.5" y="52.6" font-family="Liberation Sans, sans-serif" font-size="6.2" fill="#3a3a3a" text-anchor="middle">AK</text>
<text x="74.3" y="85.6" font-family="Liberation Sans, sans-serif" font-size="4.2" fill="#888">0</text>
<text x="89.2" y="85.6" font-family="Liberation Sans, sans-serif" font-size="4.2" fill="#888" textLength="19" lengthAdjust="spacingAndGlyphs">500 Miles</text>
<path d="M75.7,87.4 H93.1" stroke="#444" stroke-width="1"/>
<rect x="27.3" y="355.5" width="81.2" height="56.9" fill="none" stroke="#888" stroke-width="0.8"/>
<path d="M91.7,386.4 95.3,388.4 102.0,392.6 105.6,395.6 103.7,398.0 96.6,399.8 94.3,402.7 91.4,398.0 89.5,393.2 92.1,389.6ZM81.8,377.6 84.3,378.8 87.6,378.2 90.4,380.0 88.9,382.4 84.3,382.4 84.3,380.2 81.1,380.0ZM73.4,375.2 80.5,375.2 80.5,377.0 73.4,376.6ZM77.2,378.4 79.6,379.4 78.5,380.8 76.6,380.0ZM81.1,382.4 83.1,383.0 81.8,383.6ZM64.3,369.1 66.3,370.4 68.9,374.0 66.3,374.6 63.1,374.0 61.1,371.0ZM45.0,362.8 47.6,364.4 46.3,366.8 42.4,366.8 41.4,364.4ZM37.3,365.6 36.0,368.0 35.3,366.8Z" fill="#8c95c4" stroke="#444" stroke-width="0.6" stroke-linejoin="round"/>
<text x="62.7" y="390.2" font-family="Liberation Sans, sans-serif" font-size="6.2" fill="#3a3a3a" text-anchor="middle">HI</text>
<text x="33.2" y="406.2" font-family="Liberation Sans, sans-serif" font-size="4.2" fill="#888">0</text>
<text x="49.6" y="406.2" font-family="Liberation Sans, sans-serif" font-size="4.2" fill="#888" textLength="19" lengthAdjust="spacingAndGlyphs">100 Miles</text>
<path d="M34.2,408.8 H53.5" stroke="#444" stroke-width="1"/>
<text x="340.6" y="395.8" font-family="Liberation Sans, sans-serif" font-size="4.8" fill="#888">0</text>
<text x="355" y="395.8" font-family="Liberation Sans, sans-serif" font-size="4.8" fill="#888" textLength="24.9" lengthAdjust="spacingAndGlyphs">100 Miles</text>
<path d="M342,398.5 H359.1" stroke="#444" stroke-width="1"/>

<g stroke="#bbb" stroke-width="0.4"><rect x="460.8" y="315.3" width="22.4" height="11.5" fill="#8c95c4"/>
<rect x="460.8" y="326.8" width="22.4" height="10.7" fill="#e3e4e6"/>
<rect x="460.8" y="337.5" width="22.4" height="12.3" fill="#e99d76"/></g>
<g font-family="Liberation Sans, sans-serif"><text x="126.1" y="40.4" font-size="13" fill="#222" font-weight="normal" textLength="57.8" lengthAdjust="spacingAndGlyphs">Figure 2.</text><text x="125.6" y="58.8" font-size="13.6" fill="#1f6db5" font-weight="bold" textLength="455.4" lengthAdjust="spacingAndGlyphs" stroke="#1f6db5" stroke-width="0.35">Difference in Poverty Rates by State Using the Official and</text><text x="125.6" y="76.5" font-size="13.6" fill="#1f6db5" font-weight="bold" textLength="480.4" lengthAdjust="spacingAndGlyphs" stroke="#1f6db5" stroke-width="0.35">Supplemental Poverty Measures: 3-Year Average 2018 to 2020</text><text x="24.4" y="446.5" font-size="9.2" fill="#333" font-weight="normal" textLength="269.6" lengthAdjust="spacingAndGlyphs"><tspan font-size="6" dy="-3">1</tspan><tspan dy="3"> Includes unrelated individuals under the age of 15.</tspan></text><text x="24.2" y="461.6" font-size="9.2" fill="#333" font-weight="normal" textLength="583.3" lengthAdjust="spacingAndGlyphs">Notes: The data for 2019 and 2020 reflect the implementation of revised SPM methodology. More information is</text><text x="24.2" y="473.9" font-size="9.2" fill="#333" font-weight="normal" textLength="569.8" lengthAdjust="spacingAndGlyphs">available in the report appendix. Information on confidentiality protection, sampling error, nonsampling error,</text><text x="24.2" y="486.4" font-size="9.2" fill="#333" font-weight="normal" textLength="561.4" lengthAdjust="spacingAndGlyphs">and definitions is available at &lt;https://www2.census.gov/programs-surveys/cps/techdocs/cpsmar21.pdf&gt;.</text><text x="24.2" y="502.0" font-size="9.2" fill="#333" font-weight="normal" textLength="585.8" lengthAdjust="spacingAndGlyphs">Source: U.S. Census Bureau, Current Population Survey, 2019 to 2021 Annual Social and Economic Supplements</text><text x="24.2" y="514.6" font-size="9.2" fill="#333" font-weight="normal" textLength="64.6" lengthAdjust="spacingAndGlyphs">(CPS ASEC).</text><text x="489.5" y="323.7" font-size="9.6" fill="#333" font-weight="normal" textLength="118.5" lengthAdjust="spacingAndGlyphs">SPM higher than official<tspan font-size="4.6" dy="-3.6">1</tspan></text><text x="489.5" y="335.6" font-size="9.6" fill="#333" font-weight="normal" textLength="123.7" lengthAdjust="spacingAndGlyphs">Not statistically different</text><text x="489.5" y="347.3" font-size="9.6" fill="#333" font-weight="normal" textLength="117.7" lengthAdjust="spacingAndGlyphs">SPM lower than official<tspan font-size="4.6" dy="-3.6">1</tspan></text></g>
</svg></body></html>
